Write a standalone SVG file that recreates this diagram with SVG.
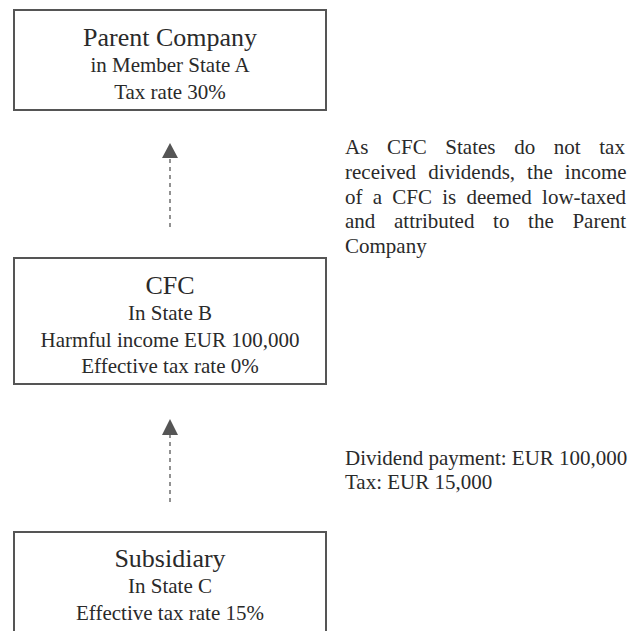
<svg xmlns="http://www.w3.org/2000/svg" width="632" height="631" viewBox="0 0 632 631">
<defs>
<style>
.box{fill:#fff;stroke:#555;stroke-width:2}
.t{font-family:"Liberation Serif","Times New Roman",serif;fill:#2a2a2a;text-anchor:middle}
.title{font-size:26px}
.sub{font-size:21px}
.note{font-family:"Liberation Serif","Times New Roman",serif;fill:#2a2a2a;font-size:21px}
.conn{stroke:#777;stroke-width:1.6;stroke-dasharray:4 4;fill:none}
.head{fill:#555}
</style>
</defs>
<rect width="632" height="631" fill="#fff"/>
<g id="parent">
<rect class="box" x="14" y="10" width="312" height="100"/>
<text class="t title" x="170" y="46">Parent Company</text>
<text class="t sub" x="170" y="72">in Member State A</text>
<text class="t sub" x="170" y="99">Tax rate 30%</text>
</g>
<g id="cfc">
<rect class="box" x="14" y="258" width="312" height="126"/>
<text class="t title" x="170" y="294">CFC</text>
<text class="t sub" x="170" y="320">In State B</text>
<text class="t sub" x="170" y="347">Harmful income EUR 100,000</text>
<text class="t sub" x="170" y="373">Effective tax rate 0%</text>
</g>
<g id="subsidiary">
<rect class="box" x="14" y="532" width="312" height="120"/>
<text class="t title" x="170" y="567">Subsidiary</text>
<text class="t sub" x="170" y="593">In State C</text>
<text class="t sub" x="170" y="620">Effective tax rate 15%</text>
</g>
<g id="connectors">
<line class="conn" x1="170" y1="227" x2="170" y2="158"/>
<polygon class="head" points="170,143 162,158 178,158"/>
<line class="conn" x1="170" y1="502" x2="170" y2="435"/>
<polygon class="head" points="170,419 162,435 178,435"/>
</g>
<g id="note-attribution">
<text class="note" x="345" y="154" word-spacing="13.4">As CFC States do not tax</text>
<text class="note" x="345" y="179" word-spacing="6.8">received dividends, the income</text>
<text class="note" x="345" y="204" word-spacing="5">of a CFC is deemed low-taxed</text>
<text class="note" x="345" y="228" word-spacing="13.4">and attributed to the Parent</text>
<text class="note" x="345" y="253">Company</text>
</g>
<g id="note-dividend">
<text class="note" x="345" y="465">Dividend payment: EUR 100,000</text>
<text class="note" x="345" y="489">Tax: EUR 15,000</text>
</g>
</svg>
